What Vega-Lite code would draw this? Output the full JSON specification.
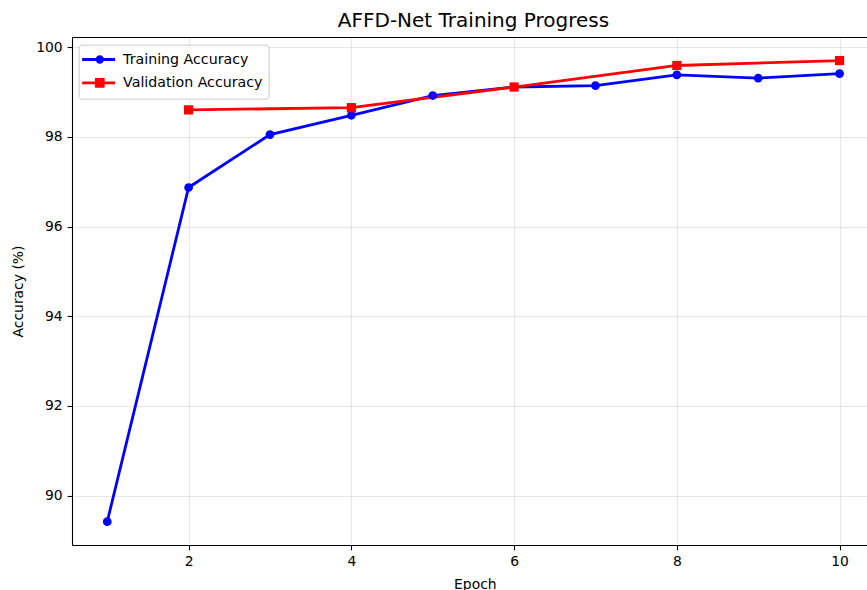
{
  "$schema": "https://vega.github.io/schema/vega-lite/v6.json",
  "width": 795,
  "height": 508,
  "autosize": {"type": "none"},
  "padding": {"left": 72, "top": 37, "right": 0, "bottom": 45},
  "background": "white",
  "title": {"text": "AFFD-Net Training Progress", "font": "DejaVu Sans", "fontSize": 20, "fontWeight": "normal", "color": "black", "anchor": "middle", "dx": 4, "offset": -10, "baseline": "alphabetic"},
  "config": {
    "view": {"stroke": null},
    "axis": {
      "labelFont": "DejaVu Sans", "labelFontSize": 13.9, "labelColor": "black",
      "tickColor": "black", "tickSize": 4.9, "tickWidth": 1.1,
      "domainColor": "black", "domainWidth": 1.1,
      "gridColor": "#b0b0b0", "gridOpacity": 0.3, "gridWidth": 1.1,
      "labelPadding": 4.9,
      "titleFont": "DejaVu Sans", "titleFontSize": 13.9, "titleFontWeight": "normal", "titleColor": "black"
    },
    "legend": {
      "labelFont": "DejaVu Sans", "labelFontSize": 14.2, "labelColor": "black"
    }
  },
  "data": {"values": [
    {"epoch": 1, "series": "Training Accuracy", "acc": 89.42},
    {"epoch": 2, "series": "Training Accuracy", "acc": 96.87},
    {"epoch": 3, "series": "Training Accuracy", "acc": 98.05},
    {"epoch": 4, "series": "Training Accuracy", "acc": 98.48},
    {"epoch": 5, "series": "Training Accuracy", "acc": 98.92},
    {"epoch": 6, "series": "Training Accuracy", "acc": 99.11},
    {"epoch": 7, "series": "Training Accuracy", "acc": 99.14},
    {"epoch": 8, "series": "Training Accuracy", "acc": 99.38},
    {"epoch": 9, "series": "Training Accuracy", "acc": 99.31},
    {"epoch": 10, "series": "Training Accuracy", "acc": 99.41},
    {"epoch": 2, "series": "Validation Accuracy", "acc": 98.60},
    {"epoch": 4, "series": "Validation Accuracy", "acc": 98.65},
    {"epoch": 6, "series": "Validation Accuracy", "acc": 99.11},
    {"epoch": 8, "series": "Validation Accuracy", "acc": 99.59},
    {"epoch": 10, "series": "Validation Accuracy", "acc": 99.70}
  ]},
  "layer": [
    {
      "mark": {"type": "line", "strokeWidth": 2.8},
      "encoding": {
        "x": {"field": "epoch", "type": "quantitative", "scale": {"domain": [0.567, 10.337], "nice": false, "zero": false},
              "axis": {"values": [2, 4, 6, 8, 10], "title": "Epoch", "titleX": 402.8, "titleY": 32, "titleBaseline": "top", "titleAnchor": "start", "titleAlign": "center"}},
        "y": {"field": "acc", "type": "quantitative", "scale": {"domain": [88.9, 100.225], "nice": false, "zero": false},
              "axis": {"values": [90, 92, 94, 96, 98, 100], "title": "Accuracy (%)", "titleX": -53.3, "titleY": 254, "titleBaseline": "middle", "titleAlign": "center", "titleAngle": -90}},
        "color": {"field": "series", "type": "nominal",
                  "scale": {"domain": ["Training Accuracy", "Validation Accuracy"], "range": ["#0000ff", "#ff0000"]},
                  "legend": {
                    "title": null, "orient": "none", "legendX": 6.6, "legendY": 7.7,
                    "fillColor": "rgba(255,255,255,0.8)", "strokeColor": "#cccccc", "cornerRadius": 3, "padding": 5.8,
                    "symbolSize": 225, "symbolStrokeWidth": 2.8, "labelOffset": 20.7, "rowPadding": 4.4,
                    "encode": {"symbols": {"update": {
                      "shape": {"signal": "datum.value === 'Training Accuracy' ? 'M-1.5,0H2.89M1.221,0A0.368,0.368,0,1,1,0.485,0A0.368,0.368,0,1,1,1.221,0Z' : 'M-1.5,0H2.89M0.393,-0.46H1.313V0.46H0.393Z'"},
                      "stroke": {"signal": "datum.value === 'Training Accuracy' ? '#0000ff' : '#ff0000'"},
                      "fill": {"signal": "datum.value === 'Training Accuracy' ? '#0000ff' : '#ff0000'"},
                      "strokeWidth": {"value": 2.8},
                      "opacity": {"value": 1}
                    }}}
                  }}
      }
    },
    {
      "transform": [{"filter": "datum.series === 'Training Accuracy'"}],
      "mark": {"type": "circle", "opacity": 1, "size": 76},
      "encoding": {
        "x": {"field": "epoch", "type": "quantitative",
              "axis": {"orient": "top", "labels": false, "ticks": false, "grid": false, "domain": true, "title": null}},
        "y": {"field": "acc", "type": "quantitative"},
        "color": {"field": "series", "type": "nominal", "legend": null}
      }
    },
    {
      "transform": [{"filter": "datum.series === 'Validation Accuracy'"}],
      "mark": {"type": "square", "opacity": 1, "size": 85},
      "encoding": {
        "x": {"field": "epoch", "type": "quantitative", "axis": null},
        "y": {"field": "acc", "type": "quantitative"},
        "color": {"field": "series", "type": "nominal", "legend": null}
      }
    }
  ],
  "resolve": {"axis": {"x": "independent"}}
}
